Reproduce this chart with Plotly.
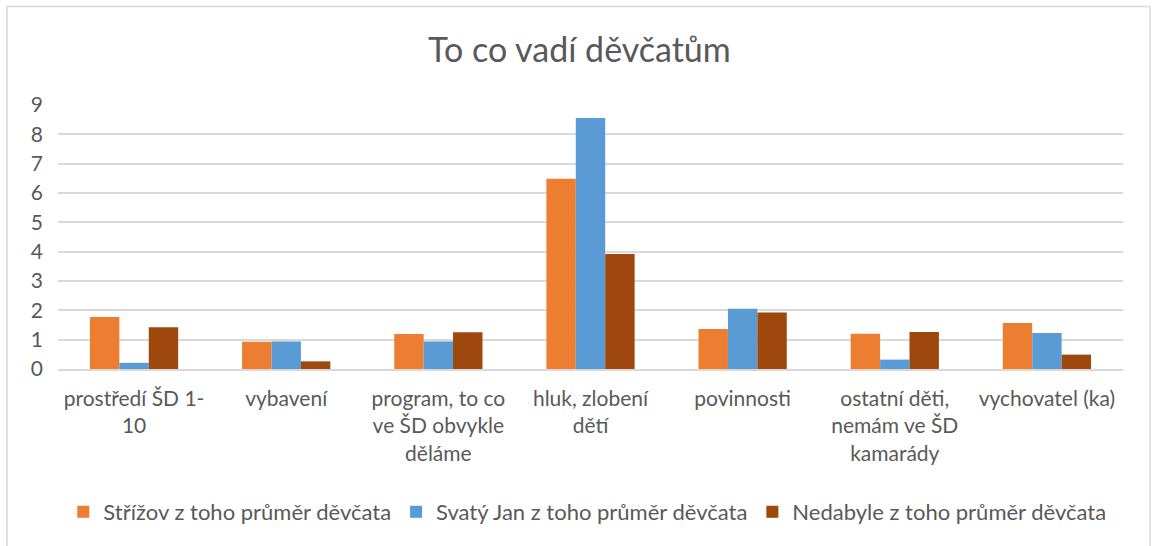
import plotly.graph_objects as go

categories = ["prostředí ŠD 1-10", "vybavení", "program, to co ve ŠD obvykle děláme",
              "hluk, zlobení dětí", "povinnosti", "ostatní děti, nemám ve ŠD kamarády",
              "vychovatel (ka)"]
tick_labels = ["prostředí ŠD 1-<br>10", "vybavení", "program, to co<br>ve ŠD obvykle<br>děláme",
               "hluk, zlobení<br>dětí", "povinnosti", "ostatní děti,<br>nemám ve ŠD<br>kamarády",
               "vychovatel (ka)"]
strizov = [1.77, 0.93, 1.19, 6.49, 1.36, 1.20, 1.57]
svaty_jan = [0.21, 0.94, 0.94, 8.56, 2.05, 0.32, 1.23]
nedabyle = [1.42, 0.26, 1.25, 3.92, 1.93, 1.26, 0.49]
series_names = ["Stř\u00ed\u017eov z toho průměr děvčata", "Svatý Jan z toho průměr děvčata",
                "Nedabyle z toho průměr děvčata"]
y_ticks = [0, 1, 2, 3, 4, 5, 6, 7, 8, 9]

colors = ["#ED7D31", "#5B9BD5", "#9E480E"]
font = "Lato, 'Open Sans', sans-serif"
txt = "#595959"

fig = go.Figure()
for name, vals, c in zip(series_names, [strizov, svaty_jan, nedabyle], colors):
    fig.add_trace(go.Bar(x=categories, y=vals, name=name, marker=dict(color=c, line=dict(width=0))))

W, H = 1152, 546
L, R, T, B = 58, 1123, 105, 369
pw, ph = R - L, B - T

def px(x):
    return (x - L) / pw

def py(y):
    return (B - y) / ph

fig.update_layout(
    width=W, height=H,
    margin=dict(l=L, r=W - R, t=T, b=H - B),
    paper_bgcolor="white", plot_bgcolor="white",
    barmode="group", bargap=0.42, bargroupgap=0,
    font=dict(family=font, color=txt, size=21),
    title=dict(text="To co vadí děvčatům", x=0.503, xanchor="center", y=1 - 50 / H, yanchor="middle",
               font=dict(size=34, color=txt, family=font)),
    legend=dict(orientation="h", x=0.497, xanchor="center", y=py(512), yanchor="middle",
                font=dict(size=22, color=txt), itemwidth=30, traceorder="normal"),
    showlegend=True,
    shapes=[dict(type="rect", xref="paper", yref="paper", x0=px(7), x1=px(1150), y0=py(560), y1=py(6.5),
                 line=dict(color="#D9D9D9", width=1.5), fillcolor="rgba(0,0,0,0)", layer="below")],
)
fig.update_xaxes(tickmode="array", tickvals=categories, ticktext=tick_labels, showgrid=False,
                 showline=True, linecolor="#D9D9D9", linewidth=1.5, ticks="",
                 tickfont=dict(size=21, color=txt), ticklabelstandoff=10, tickangle=0)
fig.update_yaxes(range=[0, 9], tickvals=y_ticks, showgrid=True, gridcolor="#D9D9D9", gridwidth=1.5,
                 zeroline=False, showline=False, ticks="", tickfont=dict(size=21, color=txt),
                 ticklabelstandoff=14)

fig.write_html("out.html", config={"displayModeBar": False},
               post_script="document.body.style.margin='0';document.body.style.overflow='hidden';")
